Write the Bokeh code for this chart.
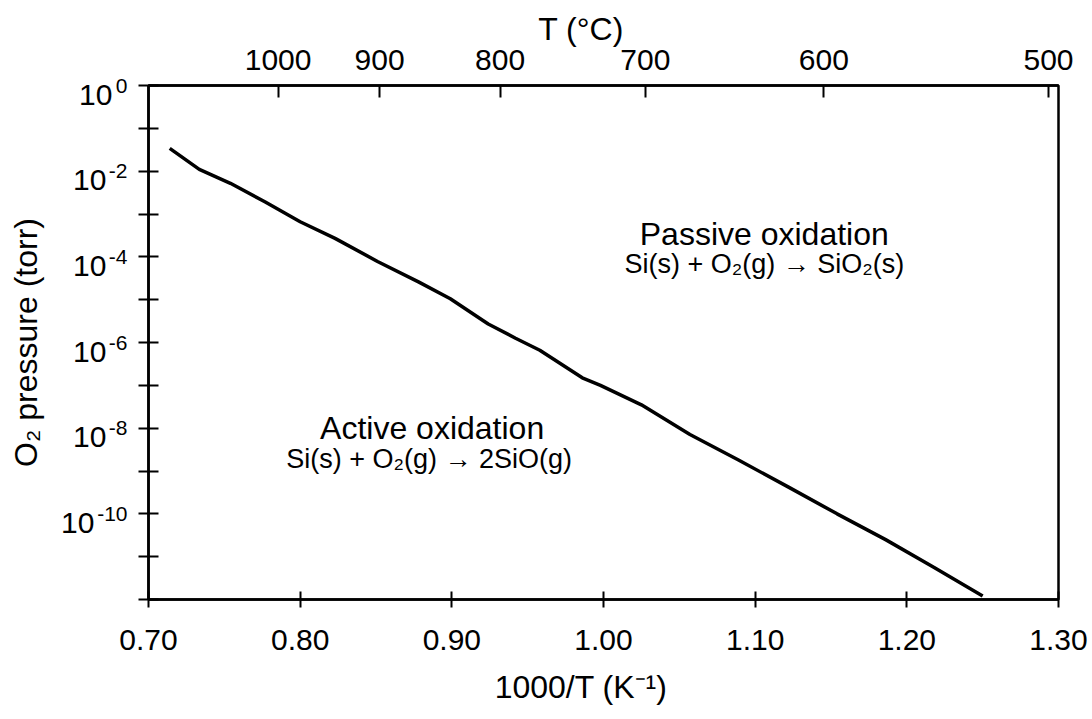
from bokeh.plotting import figure
from bokeh.models import LinearAxis, LogAxis, FixedTicker, NumeralTickFormatter
from bokeh.core.properties import value
from bokeh.embed import file_html
from bokeh.resources import INLINE

# ---- data ----
inv_T = [0.714, 0.7335, 0.754, 0.777, 0.800, 0.823, 0.851, 0.878, 0.899, 0.924, 0.942,
         0.958, 0.986, 0.998, 1.025, 1.057, 1.089, 1.122, 1.154, 1.186, 1.218, 1.250]
p_O2 = [3.4e-2, 1.1e-2, 5.2e-3, 1.9e-3, 6.6e-4, 2.7e-4, 7.8e-5, 2.6e-5, 1.05e-5, 2.7e-6, 1.26e-6,
        6.6e-7, 1.5e-7, 1.0e-7, 3.5e-8, 7.1e-9, 1.8e-9, 4.2e-10, 1.0e-10, 2.5e-11, 5.6e-12, 1.2e-12]

x_ticks = [0.70, 0.80, 0.90, 1.00, 1.10, 1.20, 1.30]
y_ticks = [1.0, 1e-1, 1e-2, 1e-3, 1e-4, 1e-5, 1e-6, 1e-7, 1e-8, 1e-9, 1e-10, 1e-11, 1e-12]
y_label_ticks = [1.0, 1e-2, 1e-4, 1e-6, 1e-8, 1e-10]
y_label_base = ["10", "10", "10", "10", "10", "10"]
y_label_exp = ["0", "-2", "-4", "-6", "-8", "-10"]
top_T_C = [1000, 900, 800, 700, 600, 500]
top_tick_labels = ["1000", "900", "800", "700", "600", "500"]

region_titles = ["Passive oxidation", "Active oxidation"]
region_eqs = ["Si(s) + O\u2082(g) \u2192 SiO\u2082(s)", "Si(s) + O\u2082(g) \u2192 2SiO(g)"]
title_x = [1.106, 0.887]
title_y = [10**-3.46, 10**-7.99]
eq_x = [1.106, 0.885]
eq_y = [10**-4.16, 10**-8.73]

FONT = "Liberation Sans"
TICK_PX = 30
EXP_PX = 21
SHIFT_PAD = "\u2009" * 7   # nudges the horizontal axis titles slightly left of centre

p = figure(width=1092, height=719, x_range=(0.70, 1.30), y_range=(1e-12, 1.0),
           y_axis_type="log", output_backend="svg", toolbar_location=None)
p.min_border_left = 148
p.min_border_right = 34
p.min_border_top = 85
p.min_border_bottom = 120
p.grid.visible = False
p.background_fill_color = "white"
p.border_fill_color = "white"
p.outline_line_color = "black"
p.outline_line_width = 2.5

def style(ax, size=TICK_PX):
    ax.axis_line_color = "black"
    ax.axis_line_width = 2.5
    ax.major_tick_line_color = "black"
    ax.major_tick_line_width = 2
    ax.minor_tick_line_color = None
    ax.major_label_text_font = FONT
    ax.major_label_text_font_size = f"{size}px"
    ax.major_label_text_color = "black"
    ax.axis_label_text_font = FONT
    ax.axis_label_text_font_size = "32px"
    ax.axis_label_text_font_style = "normal"
    ax.axis_label_text_color = "black"

# bottom axis
xa = p.xaxis[0]
style(xa)
xa.ticker = FixedTicker(ticks=x_ticks)
xa.formatter = NumeralTickFormatter(format="0.00")
xa.major_tick_in = 8
xa.major_tick_out = 8
xa.major_label_standoff = 22
xa.axis_label = "1000/T (K\u207b\u00b9)" + SHIFT_PAD
xa.axis_label_standoff = 16

# left axis: decade ticks, labelled with the exponents (superscript part)
ya = p.yaxis[0]
style(ya, EXP_PX)
ya.ticker = FixedTicker(ticks=y_ticks)
ov = {t: "" for t in y_ticks}
ov.update(dict(zip(y_label_ticks, y_label_exp)))
ya.major_label_overrides = ov
ya.major_tick_in = 10
ya.major_tick_out = 10
ya.major_label_standoff = 11

# second left axis (no line, no ticks): the "10" mantissas, set slightly lower than the
# exponents and padded on the right so the exponent sits after them
def pad(e):
    return "\u2009" * {1: 2, 2: 3, 3: 5}[len(e)]

DROP = 10 ** -0.2
base_pos = [t * DROP for t in y_label_ticks]
ba = LogAxis(ticker=FixedTicker(ticks=base_pos),
             major_label_overrides={t: b + pad(e) for t, b, e in zip(base_pos, y_label_base, y_label_exp)},
             axis_label="O\u2082 pressure (torr)")
style(ba, TICK_PX)
ba.axis_line_color = None
ba.major_tick_line_color = None
ba.major_tick_in = 0
ba.major_tick_out = 0
ba.major_label_standoff = -30
ba.axis_label_standoff = 14
p.add_layout(ba, "left")

# top axis: temperature in deg C
top_pos = [1000.0 / (t + 273.15) for t in top_T_C]
ta = LinearAxis(ticker=FixedTicker(ticks=top_pos),
                major_label_overrides=dict(zip(top_pos, top_tick_labels)),
                axis_label="T (\u00b0C)" + SHIFT_PAD)
style(ta)
ta.major_tick_in = 12
ta.major_tick_out = 0
ta.major_label_standoff = 16
ta.axis_label_standoff = 0
p.add_layout(ta, "above")

# boundary line
p.line(inv_T, p_O2, line_color="black", line_width=3.5)

# region annotations
p.text(x=title_x, y=title_y, text=region_titles, text_font=value(FONT), text_font_size="32px",
       text_align="center", text_baseline="middle", text_color="black")
p.text(x=eq_x, y=eq_y, text=region_eqs, text_font=value(FONT), text_font_size="27px",
       text_align="center", text_baseline="middle", text_color="black")

open("out.html", "w").write(file_html(p, INLINE))
